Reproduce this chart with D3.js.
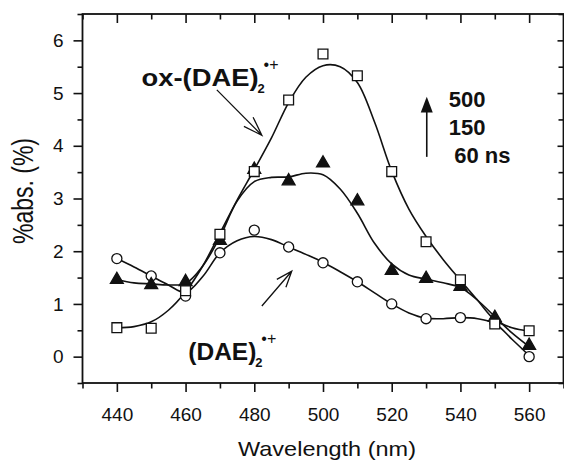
<!DOCTYPE html>
<html>
<head>
<meta charset="utf-8">
<script src="https://cdn.jsdelivr.net/npm/d3@7"></script>
<style>
  body { margin: 0; background: #fff; }
  svg { display: block; font-family: "Liberation Sans", Arial, sans-serif; }
</style>
</head>
<body>
<svg id="chart" width="564" height="461"></svg>
<script>
// measured points (nm -> % abs.)
const wavelengths = [440, 450, 460, 470, 480, 490, 500, 510, 520, 530, 540, 550, 560];
const ns60 = [1.86, 1.53, 1.15, 1.97, 2.40, 2.08, 1.78, 1.42, 1.00, 0.72, 0.74, 0.65, 0.00];
const ns150 = [1.46, 1.36, 1.42, 2.20, 3.55, 3.33, 3.67, 2.95, 1.63, 1.48, 1.33, 0.74, 0.21];
const ns500 = [0.55, 0.54, 1.25, 2.32, 3.51, 4.87, 5.74, 5.33, 3.51, 2.18, 1.46, 0.62, 0.49];

// fitted curves every 5 nm
const curveWl = [440, 445, 450, 455, 460, 465, 470, 475, 480, 485, 490, 495, 500,
                 505, 510, 515, 520, 525, 530, 535, 540, 545, 550, 555, 560];
const fit60 = [1.86, 1.70, 1.53, 1.36, 1.22, 1.52, 1.97, 2.20, 2.28, 2.22, 2.08, 1.94, 1.79,
               1.61, 1.42, 1.21, 1.00, 0.83, 0.73, 0.72, 0.74, 0.72, 0.63, 0.33, 0.02];
const fit150 = [1.46, 1.40, 1.38, 1.36, 1.39, 1.72, 2.27, 2.95, 3.32, 3.40, 3.41, 3.48, 3.45,
                3.18, 2.72, 2.15, 1.76, 1.55, 1.47, 1.40, 1.31, 1.07, 0.76, 0.45, 0.19];
const fit500 = [0.55, 0.57, 0.66, 0.88, 1.23, 1.72, 2.34, 2.97, 3.55, 4.15, 4.82, 5.30, 5.52,
                5.50, 5.20, 4.45, 3.52, 2.80, 2.28, 1.84, 1.45, 1.07, 0.70, 0.55, 0.49];

const xMajor = [440, 460, 480, 500, 520, 540, 560];
const xMinor = [430, 450, 470, 490, 510, 530, 550, 570];
const yMajor = [0, 1, 2, 3, 4, 5, 6];
const yMinor = [-0.5, 0.5, 1.5, 2.5, 3.5, 4.5, 5.5, 6.5];
const timeLabels = ["500", "150", "60 ns"];

const INK = "#111";
const svg = d3.select("#chart");

const x = d3.scaleLinear().domain([430, 570]).range([82.5, 563.5]);
const y = d3.scaleLinear().domain([-0.5, 6.5]).range([383, 14]);
const X0 = x.range()[0], X1 = x.range()[1], Y0 = y.range()[0], Y1 = y.range()[1];

// axes: ticks out on bottom/left, in on top/right
function styleAxis(g) {
  g.select(".domain").remove();
  g.selectAll(".tick line").attr("stroke", INK).attr("stroke-width", 1.6);
  g.selectAll("text").attr("fill", INK).attr("font-size", 19);
}
svg.append("g").attr("transform", `translate(0,${Y0})`)
  .call(d3.axisBottom(x).tickValues(xMajor).tickSize(9).tickPadding(15.2).tickFormat(d3.format("d")))
  .call(styleAxis);
svg.append("g").attr("transform", `translate(0,${Y0})`)
  .call(d3.axisBottom(x).tickValues(xMinor).tickSize(5.5).tickFormat(""))
  .call(styleAxis);
svg.append("g").attr("transform", `translate(0,${Y1})`)
  .call(d3.axisTop(x).tickValues(xMajor).tickSizeInner(-9).tickFormat(""))
  .call(styleAxis);
svg.append("g").attr("transform", `translate(0,${Y1})`)
  .call(d3.axisTop(x).tickValues(xMinor).tickSizeInner(-5.5).tickFormat(""))
  .call(styleAxis);
svg.append("g").attr("transform", `translate(${X0},0)`)
  .call(d3.axisLeft(y).tickValues(yMajor).tickSize(9).tickPadding(10).tickFormat(d3.format("d")))
  .call(styleAxis);
svg.append("g").attr("transform", `translate(${X0},0)`)
  .call(d3.axisLeft(y).tickValues(yMinor).tickSize(5).tickFormat(""))
  .call(styleAxis);
svg.append("g").attr("transform", `translate(${X1},0)`)
  .call(d3.axisRight(y).tickValues(yMajor).tickSizeInner(-6).tickFormat(""))
  .call(styleAxis);
svg.append("g").attr("transform", `translate(${X1},0)`)
  .call(d3.axisRight(y).tickValues(yMinor).tickSizeInner(-5).tickFormat(""))
  .call(styleAxis);

svg.append("rect")
  .attr("x", X0).attr("y", Y1).attr("width", X1 - X0).attr("height", Y0 - Y1)
  .attr("fill", "none").attr("stroke", INK).attr("stroke-width", 1.8);

// axis titles
svg.append("text")
  .attr("transform", `translate(${(X0 + X1) / 2 + 4},456)`)
  .attr("text-anchor", "middle").attr("font-size", 21).attr("fill", INK)
  .attr("textLength", 178).attr("lengthAdjust", "spacingAndGlyphs")
  .text("Wavelength (nm)");
svg.append("text")
  .attr("transform", "translate(32.5,191) rotate(-90) scale(1,1.25)")
  .attr("text-anchor", "middle").attr("font-size", 23).attr("fill", INK)
  .text("%abs. (%)");

// fitted curves
const line = d3.line().x(d => x(d[0])).y(d => y(d[1])).curve(d3.curveCatmullRom.alpha(0.5));
[fit60, fit150, fit500].forEach(fit => {
  svg.append("path")
    .datum(curveWl.map((w, i) => [w, fit[i]]))
    .attr("d", line)
    .attr("fill", "none").attr("stroke", INK).attr("stroke-width", 1.6);
});

// markers
const series = [
  { vals: ns60, type: d3.symbolCircle, size: 80, fill: "#fff" },
  { vals: ns150, type: d3.symbolTriangle, size: 72, fill: INK },
  { vals: ns500, type: d3.symbolSquare, size: 96, fill: "#fff" }
];
series.forEach(s => {
  svg.append("g").selectAll("path")
    .data(wavelengths.map((w, i) => [w, s.vals[i]]))
    .join("path")
    .attr("transform", d => `translate(${x(d[0])},${y(d[1])})`)
    .attr("d", d3.symbol().type(s.type).size(s.size))
    .attr("fill", s.fill).attr("stroke", INK).attr("stroke-width", 1.3);
});

// annotation arrows (positions in data units)
function openArrow(a, b, len, spread) {
  const x1 = x(a[0]), y1 = y(a[1]), x2 = x(b[0]), y2 = y(b[1]);
  const ang = Math.atan2(y1 - y2, x1 - x2);
  const h1 = [x2 + len * Math.cos(ang + spread), y2 + len * Math.sin(ang + spread)];
  const h2 = [x2 + len * Math.cos(ang - spread), y2 + len * Math.sin(ang - spread)];
  svg.append("path")
    .attr("d", `M${x1},${y1}L${x2},${y2}M${h1[0]},${h1[1]}L${x2},${y2}L${h2[0]},${h2[1]}`)
    .attr("fill", "none").attr("stroke", INK).attr("stroke-width", 1.3);
}
openArrow([469.1, 5.06], [482.2, 4.20], 20, 0.33);
openArrow([482.2, 0.96], [490.9, 1.62], 17, 0.36);

// time arrow
const ax = x(530.2);
svg.append("line")
  .attr("x1", ax).attr("x2", ax).attr("y1", y(3.79)).attr("y2", y(4.65))
  .attr("stroke", INK).attr("stroke-width", 1.6);
svg.append("path")
  .attr("d", `M${ax},${y(4.93)}L${ax + 6},${y(4.63)}L${ax - 6},${y(4.63)}Z`)
  .attr("fill", INK);

svg.selectAll(".time")
  .data(timeLabels)
  .join("text")
  .attr("class", "time")
  .attr("x", (d, i) => x(i === 2 ? 538.2 : 536.6))
  .attr("y", (d, i) => y([4.74, 4.20, 3.67][i]))
  .attr("font-size", 22).attr("font-weight", "bold").attr("fill", INK)
  .text(d => d);

// species labels
function species(prefix, nm, v, len) {
  const g = svg.append("g").attr("font-weight", "bold").attr("fill", INK);
  const x0 = x(nm), y0 = y(v);
  g.append("text").attr("x", x0).attr("y", y0).attr("font-size", 24)
    .attr("textLength", len).attr("lengthAdjust", "spacingAndGlyphs")
    .text(prefix + "(DAE)");
  g.append("text").attr("x", x0 + len - 1).attr("y", y0 + 7).attr("font-size", 13).text("2");
  g.append("text").attr("x", x0 + len + 5).attr("y", y0 - 16)
    .attr("font-size", 16).attr("font-weight", "normal").text("\u2022+");
}
species("ox-", 447.2, 5.13, 117);
species("", 460.8, -0.06, 68);
</script>
</body>
</html>
